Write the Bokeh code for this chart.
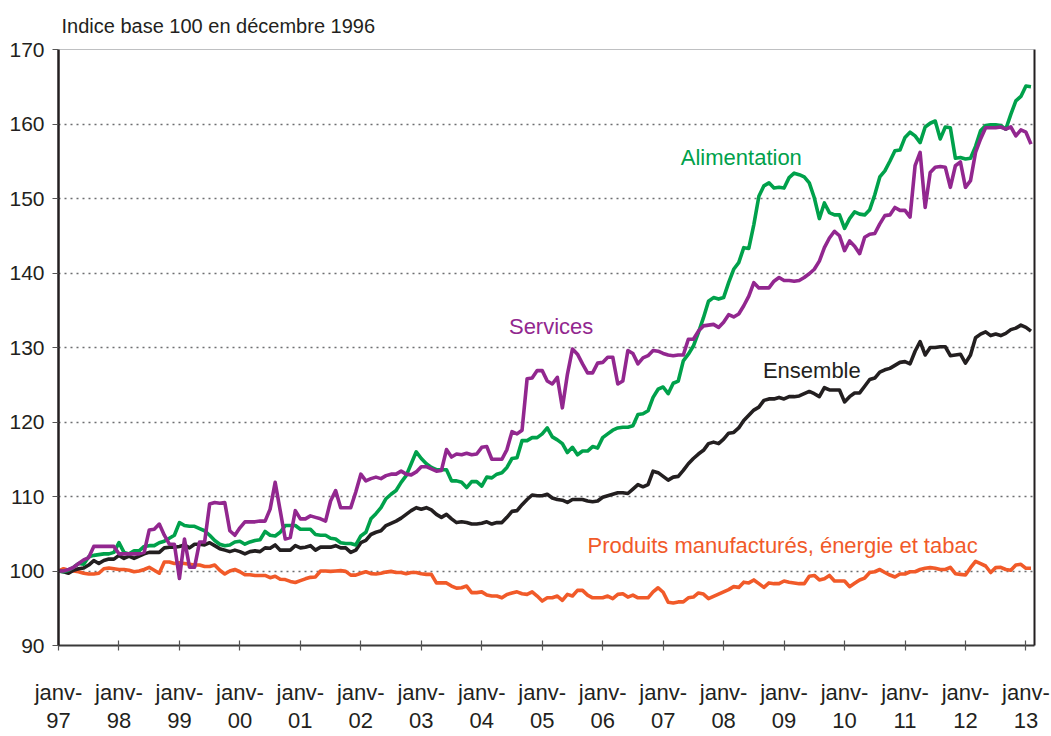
from bokeh.plotting import figure
from bokeh.models import Range1d, FixedTicker, LinearAxis, Span, Label
from bokeh.embed import file_html
from bokeh.resources import INLINE

# Monthly indices, base 100 = December 1996; month index 0 = January 1997
alimentation = [
    100.0, 99.9, 100.1, 100.5, 101.0, 100.9, 101.9, 102.1, 102.2, 102.3, 102.3, 102.5,
    103.8, 102.5, 102.3, 102.7, 102.7, 103.3, 103.4, 103.4, 103.8, 104.0, 104.4, 104.8,
    106.5, 106.1, 106.0, 106.0, 105.7, 105.4, 104.8, 104.1, 103.6, 103.4, 103.5, 103.9,
    104.0, 103.6, 103.9, 104.1, 104.2, 105.3, 104.8, 104.7, 105.2, 106.1, 106.1, 106.1,
    105.6, 105.6, 105.6, 104.9, 104.8, 104.8, 104.4, 104.3, 103.8, 103.7, 103.7, 103.5,
    104.7, 105.2, 107.0, 107.7, 108.5, 109.7, 110.3, 110.8, 111.9, 112.8, 114.4, 116.0,
    115.1, 114.4, 113.9, 113.6, 113.6, 113.6, 112.1, 112.1, 111.9, 111.2, 112.0, 112.0,
    111.4, 112.6, 112.5, 113.0, 113.2, 113.9, 115.1, 115.2, 117.5, 117.5, 117.9, 117.9,
    118.4, 119.2, 118.0, 117.6, 117.1, 115.9, 116.6, 115.6, 116.1, 116.1, 116.7, 116.5,
    117.9, 118.4, 118.9, 119.2, 119.3, 119.3, 119.5, 121.0, 121.1, 121.5, 123.3, 124.4,
    124.7, 123.8, 125.2, 125.5, 128.2, 129.1, 130.2, 132.0, 134.0, 136.2, 136.7, 136.5,
    136.7, 138.7, 140.5, 141.4, 143.4, 143.3, 146.5, 150.3, 151.7, 152.1, 151.4, 151.5,
    151.4, 152.8, 153.4, 153.2, 152.9, 152.1, 150.1, 147.3, 149.4, 148.1, 147.8, 147.8,
    146.0, 147.3, 148.2, 147.9, 147.8, 148.5, 150.5, 152.9, 153.7, 155.0, 156.4, 156.5,
    158.2, 158.9, 158.4, 157.5, 159.6, 160.1, 160.4, 158.0, 159.6, 159.5, 155.4, 155.5,
    155.3, 155.4, 157.0, 159.1, 159.8, 159.9, 159.9, 159.8, 159.3, 161.3, 163.1, 163.7,
    165.1, 165.0,
]

services = [
    100.0, 100.0, 100.2, 100.5, 101.0, 101.5, 101.8, 103.3, 103.3, 103.3, 103.3, 103.3,
    102.3, 102.3, 102.3, 102.3, 102.3, 102.5, 105.5, 105.6, 106.3, 104.8, 103.6, 103.6,
    99.0, 104.3, 100.5, 100.5, 103.9, 103.9, 109.0, 109.2, 109.1, 109.2, 105.4, 104.8,
    105.8, 106.6, 106.6, 106.6, 106.7, 106.7, 108.3, 111.9, 108.1, 104.3, 104.5, 108.1,
    107.0, 107.0, 107.4, 107.2, 107.0, 106.7, 109.4, 110.8, 108.5, 108.5, 108.5, 110.6,
    113.0, 112.1, 112.4, 112.6, 112.4, 112.8, 113.0, 113.0, 113.4, 113.0, 112.9, 113.3,
    114.0, 114.0, 113.7, 113.4, 113.5, 116.3, 115.3, 115.7, 115.6, 115.8, 115.6, 115.7,
    116.6, 116.7, 115.0, 115.0, 115.0, 116.3, 118.7, 118.4, 118.9, 125.8, 125.9, 126.9,
    126.9, 125.5, 125.1, 126.0, 121.9, 126.4, 129.8, 129.1, 127.8, 126.6, 126.6, 127.9,
    128.0, 128.7, 128.7, 125.1, 125.5, 129.6, 129.2, 127.8, 128.6, 128.9, 129.6, 129.5,
    129.2, 129.0, 128.9, 129.0, 129.0, 131.1, 131.1, 132.2, 132.9, 133.0, 133.1, 132.7,
    133.4, 134.4, 134.1, 134.5, 135.6, 136.9, 138.7, 138.0, 138.0, 138.0, 138.9, 139.4,
    139.0, 139.0, 138.9, 139.0, 139.4, 139.9, 140.5, 141.6, 143.4, 144.7, 145.6, 145.0,
    143.0, 144.3, 143.6, 142.6, 144.8, 145.2, 145.3, 146.6, 147.7, 147.8, 148.8, 148.4,
    148.4, 147.5, 154.4, 156.2, 148.8, 153.5, 154.2, 154.3, 154.2, 151.5, 154.4, 154.9,
    151.5, 152.4, 156.2, 158.0, 159.5, 159.5, 159.5, 159.6, 159.3, 159.6, 158.4, 159.2,
    158.9, 157.3,
]

ensemble = [
    100.0, 99.9, 99.7, 100.1, 100.3, 100.4, 100.8, 101.4, 101.0, 101.4, 101.6, 101.6,
    102.1, 101.7, 102.0, 101.7, 102.0, 102.3, 102.5, 102.5, 102.5, 103.1, 103.2, 103.2,
    103.3, 103.5, 103.1, 103.6, 103.6, 103.5, 103.8, 103.4, 103.0, 102.8, 102.6, 102.8,
    102.6, 102.3, 102.6, 102.7, 102.6, 103.1, 103.05, 103.5, 102.8, 102.8, 102.8, 103.4,
    103.1, 103.2, 103.4, 102.8, 103.2, 103.2, 103.2, 103.4, 103.1, 103.1, 102.5, 102.8,
    103.8, 104.1, 104.9, 105.2, 105.4, 106.1, 106.4, 106.7, 107.1, 107.6, 108.1, 108.5,
    108.3, 108.5, 108.2, 107.6, 107.2, 107.6, 107.0, 106.5, 106.6, 106.5, 106.3, 106.3,
    106.4, 106.6, 106.3, 106.5, 106.5, 107.2, 108.0, 108.1, 108.9, 109.6, 110.2, 110.1,
    110.1, 110.3, 109.8, 109.6, 109.5, 109.2, 109.6, 109.6, 109.6, 109.4, 109.3, 109.4,
    109.9, 110.1, 110.3, 110.5, 110.5, 110.4, 111.0, 111.6, 111.3, 111.6, 113.4, 113.2,
    112.7, 112.2, 112.6, 112.7, 113.5, 114.4, 115.1, 115.7, 116.2, 117.1, 117.3, 117.1,
    117.7, 118.5, 118.6, 119.2, 120.2, 120.9, 121.6, 122.0, 122.9, 123.1, 123.1, 123.3,
    123.1, 123.4, 123.4, 123.5, 123.8, 124.1, 123.8, 123.4, 124.6, 124.3, 124.3, 124.3,
    122.7, 123.4, 123.9, 123.9, 124.8, 125.7, 125.9, 126.7, 127.0, 127.2, 127.6, 128.0,
    128.1, 127.8, 129.5, 130.8, 129.0, 130.0, 130.0, 130.1, 130.1, 128.9, 129.0, 129.1,
    127.9, 129.0, 131.3, 131.8, 132.1, 131.6, 131.8, 131.6, 131.9, 132.4, 132.6, 133.0,
    132.7, 132.2,
]

produits = [
    100.0, 100.3, 100.1, 100.0, 99.9, 99.7, 99.6, 99.6, 99.7, 100.3, 100.4, 100.3,
    100.2, 100.2, 100.1, 99.9, 100.0, 100.2, 100.5, 100.1, 99.7, 101.2, 101.2, 101.0,
    101.1, 101.0, 100.9, 100.8, 100.8, 100.6, 100.6, 100.8, 100.1, 99.6, 100.0, 100.2,
    99.9, 99.5, 99.5, 99.4, 99.4, 99.4, 99.1, 99.3, 98.9, 98.85, 98.6, 98.45,
    98.7, 98.95, 99.15, 99.2, 100.0, 100.0, 99.95, 100.0, 100.05, 99.95, 99.45, 99.45,
    99.7, 99.9, 99.65, 99.6, 99.7, 99.85, 99.95, 99.8, 99.8, 99.64, 99.8, 99.8,
    99.64, 99.55, 99.55, 98.4, 98.4, 98.4, 97.98, 97.7, 97.76, 97.98, 97.1, 97.1,
    97.2, 96.77, 96.64, 96.64, 96.4, 96.86, 97.04, 97.2, 96.95, 96.86, 97.2, 96.64,
    95.97, 96.4, 96.4, 96.64, 96.06, 96.86, 96.64, 97.4, 97.4, 96.77, 96.4, 96.4,
    96.4, 96.64, 96.3, 96.86, 96.95, 96.5, 96.77, 96.4, 96.4, 96.4, 97.2, 97.75,
    97.15, 95.8, 95.7, 95.85, 95.85, 96.4, 96.5, 97.05, 96.9, 96.3, 96.6, 96.9,
    97.2, 97.5, 97.9, 97.8, 98.5, 98.4, 98.8, 98.3, 97.8, 98.4, 98.3, 98.3,
    98.66, 98.5, 98.4, 98.3, 98.3, 99.3, 99.4, 98.8, 98.97, 99.4, 98.66, 98.66,
    98.66, 97.9, 98.35, 98.8, 99.05, 99.8, 99.9, 100.2, 99.8, 99.46, 99.2, 99.6,
    99.6, 99.9, 99.9, 100.2, 100.36, 100.45, 100.36, 100.2, 100.2, 100.5, 99.64, 99.55,
    99.46, 100.45, 101.3, 100.98, 100.67, 99.8, 100.45, 100.5, 100.2, 100.1, 100.8, 100.9,
    100.36, 100.36,
]

mois = list(range(len(alimentation)))  # month index, 0 = janvier 1997

tick_positions = [0, 12, 24, 36, 48, 60, 72, 84, 96, 108, 120, 132, 144, 156, 168, 180, 192]
tick_labels = ["janv-\n97", "janv-\n98", "janv-\n99", "janv-\n00", "janv-\n01", "janv-\n02",
               "janv-\n03", "janv-\n04", "janv-\n05", "janv-\n06", "janv-\n07", "janv-\n08",
               "janv-\n09", "janv-\n10", "janv-\n11", "janv-\n12", "janv-\n13"]
y_ticks = [90, 100, 110, 120, 130, 140, 150, 160, 170]

FONT = "Liberation Sans"
TXT = "#231f20"
C_ALI = "#00a14b"
C_SER = "#92278f"
C_ENS = "#231f20"
C_PRO = "#f15a29"

p = figure(width=1051, height=736, output_backend="svg", toolbar_location=None,
           x_range=Range1d(0, 193.7), y_range=Range1d(90, 170),
           min_border_left=58, min_border_right=17, min_border_top=48, min_border_bottom=91)
p.outline_line_color = None
p.background_fill_color = "white"
p.border_fill_color = "white"

p.title.text = "Indice base 100 en décembre 1996"
p.title.text_font = FONT
p.title.text_font_size = "20px"
p.title.text_font_style = "normal"
p.title.text_color = TXT
p.title.align = "left"
p.title.offset = 3
p.title.standoff = 25

# axes
xa = p.xaxis[0]
xa.ticker = FixedTicker(ticks=tick_positions)
xa.major_label_overrides = {t: l for t, l in zip(tick_positions, tick_labels)}
xa.major_label_text_font = FONT
xa.major_label_text_font_size = "22px"
xa.major_label_text_color = TXT
xa.major_label_text_line_height = 1.15
xa.major_label_standoff = 29
xa.axis_line_color = "#3a3a3a"
xa.axis_line_width = 1.8
xa.major_tick_line_color = "#555555"
xa.major_tick_line_width = 1.2
xa.major_tick_in = 5
xa.major_tick_out = 5
xa.minor_tick_line_color = None

ya = p.yaxis[0]
ya.ticker = FixedTicker(ticks=y_ticks)
ya.major_label_text_font = FONT
ya.major_label_text_font_size = "21px"
ya.major_label_text_color = TXT
ya.major_label_standoff = 8
ya.axis_line_color = TXT
ya.axis_line_width = 2.5
ya.major_tick_line_color = "#555555"
ya.major_tick_line_width = 1.2
ya.major_tick_in = 0
ya.major_tick_out = 6
ya.minor_tick_line_color = None

right = LinearAxis(ticker=FixedTicker(ticks=[]), axis_line_color=TXT, axis_line_width=2,
                   major_tick_line_color=None, minor_tick_line_color=None)
p.add_layout(right, "right")

p.xgrid.grid_line_color = None
p.ygrid.ticker = FixedTicker(ticks=y_ticks[1:-1])
p.ygrid.grid_line_color = "#6d6e71"
p.ygrid.grid_line_width = 1.5
p.ygrid.grid_line_dash = "2 4"

p.add_layout(Span(location=p.y_range.end, dimension="width", line_color="#808285", line_width=1.2))

LW = 3.6
p.line(mois, produits, line_color=C_PRO, line_width=LW, line_join="round")
p.line(mois, ensemble, line_color=C_ENS, line_width=LW, line_join="round")
p.line(mois, alimentation, line_color=C_ALI, line_width=LW, line_join="round")
p.line(mois, services, line_color=C_SER, line_width=LW, line_join="round")

for txt, x, y, c in [("Alimentation", 123.5, 155.5, C_ALI),
                     ("Services", 89.4, 132.8, C_SER),
                     ("Ensemble", 139.8, 126.9, C_ENS),
                     ("Produits manufacturés, énergie et tabac", 105.0, 103.4, C_PRO)]:
    p.add_layout(Label(x=x, y=y, text=txt, text_color=c, text_font=FONT,
                       text_font_size="22px", text_baseline="middle", text_align="left"))

open("out.html", "w").write(file_html(p, INLINE))
